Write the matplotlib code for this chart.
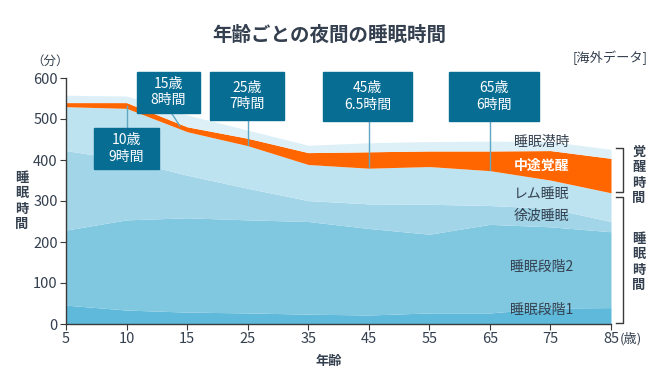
import matplotlib
matplotlib.use("Agg")
import matplotlib.pyplot as plt
from matplotlib.patches import Rectangle

plt.rcParams['font.family'] = ['Noto Sans CJK JP', 'DejaVu Sans']

# ages (categorical axis) and cumulative tops of each layer (minutes)
ages = [5, 10, 15, 25, 35, 45, 55, 65, 75, 85]
stage1 = [46, 34, 29, 27, 24, 22, 27, 27, 39, 40]
stage2 = [229, 254, 259, 254, 250, 233, 219, 243, 237, 225]
slow_wave = [423, 400, 363, 331, 301, 293, 292, 289, 282, 250]
rem = [530, 526, 469, 435, 389, 380, 384, 374, 351, 320]
wake = [540, 540, 481, 453, 418, 420, 422, 422, 423, 404]
latency = [558, 556, 510, 473, 436, 442, 445, 446, 445, 426]

layer_names = ['睡眠段階1', '睡眠段階2', '徐波睡眠', 'レム睡眠', '中途覚醒', '睡眠潜時']
layer_colors = ['#5fb9da', '#80c7e0', '#a2d5e8', '#bee3f0', '#ff6600', '#ddf0f7']

callout_ages = [10, 15, 25, 45, 65]
callout_text = ['10歳\n9時間', '15歳\n8時間', '25歳\n7時間', '45歳\n6.5時間', '65歳\n6時間']

text_col = '#34404f'
box_col = '#086d93'
line_col = '#5fa8c3'

fig = plt.figure(figsize=(6.62, 3.84), dpi=100)
ax = fig.add_axes([66 / 662, 1 - 324 / 384, 545 / 662, 246 / 384])

x = list(range(len(ages)))
tops = [stage1, stage2, slow_wave, rem, wake, latency]
bottom = [0] * len(ages)
for top, col in zip(tops, layer_colors):
    ax.fill_between(x, bottom, top, color=col, lw=0)
    bottom = top

ax.set_xlim(0, len(ages) - 1)
ax.set_ylim(0, 600)
ax.set_xticks(x)
ax.set_xticklabels([str(a) for a in ages])
ax.set_yticks(range(0, 601, 100))
for s in ['top', 'right']:
    ax.spines[s].set_visible(False)
for s in ['left', 'bottom']:
    ax.spines[s].set_color('#3a3a3a')
    ax.spines[s].set_linewidth(1.0)
ax.tick_params(colors='#3a3a3a', labelcolor=text_col, labelsize=10.5, length=4, pad=2)

# layer labels on the right
label_y = [34, 140, 265, 318, 385, 445]
for name, ly in zip(layer_names, label_y):
    c = 'white' if name == '中途覚醒' else text_col
    w = 'bold' if name == '中途覚醒' else 'normal'
    ax.text(7.85, ly, name, color=c, fontsize=10, fontweight=w,
            ha='center', va='center')

# callout boxes: (center x index, center y, width, height)
box_geom = [(1.0, 428, 1.06, 100), (1.69, 565, 1.04, 100), (2.99, 556, 1.22, 117),
            (4.98, 555, 1.47, 120), (7.07, 555, 1.49, 120)]
for age, txt, (cx, cy, w, h) in zip(callout_ages, callout_text, box_geom):
    i = ages.index(age)
    if age == 10:
        ax.plot([i, i], [cy + h / 2, wake[i] - 8], color=line_col, lw=1, zorder=3)
    elif age == 15:
        ax.plot([cx + 0.05, i - 0.12], [cy - h / 2, wake[i] + 2], color=line_col, lw=1,
                zorder=3, clip_on=False)
    else:
        ax.plot([i, i], [cy - h / 2, rem[i] + 2], color=line_col, lw=1, zorder=3,
                clip_on=False)
    ax.add_patch(Rectangle((cx - w / 2, cy - h / 2), w, h, color=box_col,
                           zorder=4, clip_on=False))
    ax.text(cx, cy, txt, color='white', fontsize=10, ha='center', va='center',
            linespacing=1.2, zorder=5, clip_on=False)

# brackets on the right
def bracket(y0, y1):
    ax.plot([9.08, 9.2, 9.2, 9.08], [y1, y1, y0, y0], color='#3a3a3a', lw=1,
            clip_on=False)

bracket(322, 429)
bracket(2, 310)
fig.text(639 / 662, 1 - 175 / 384, '覚\n醒\n時\n間', ha='center', va='center',
         fontsize=9.5, fontweight='bold', color=text_col, linespacing=1.1)
fig.text(639 / 662, 1 - 262 / 384, '睡\n眠\n時\n間', ha='center', va='center',
         fontsize=9.5, fontweight='bold', color=text_col, linespacing=1.1)
fig.text(22 / 662, 1 - 201 / 384, '睡\n眠\n時\n間', ha='center', va='center',
         fontsize=9.5, fontweight='bold', color=text_col, linespacing=1.1)

fig.text(329 / 662, 1 - 35 / 384, '年齢ごとの夜間の睡眠時間', ha='center', va='center',
         fontsize=14, fontweight='bold', color=text_col)
fig.text(648 / 662, 1 - 58 / 384, '[海外データ]', ha='right', va='center',
         fontsize=9.5, color=text_col)
fig.text(50 / 662, 1 - 61 / 384, '（分）', ha='center', va='center',
         fontsize=9, color=text_col)
fig.text(620 / 662, 1 - 339 / 384, '(歳)', ha='left', va='center',
         fontsize=9.5, color=text_col)
fig.text(329 / 662, 1 - 361 / 384, '年齢', ha='center', va='center',
         fontsize=9.5, fontweight='bold', color=text_col)

fig.savefig('out.png', dpi=100)
